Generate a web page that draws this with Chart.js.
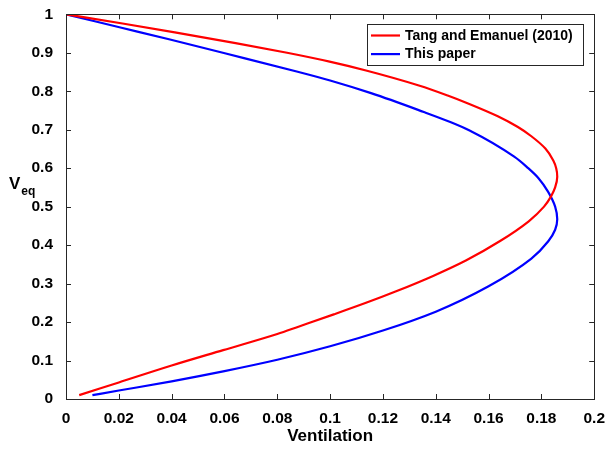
<!DOCTYPE html>
<html>
<head>
<meta charset="utf-8">
<script src="https://cdn.jsdelivr.net/npm/chart.js@4"></script>
<style>
  html, body { margin: 0; padding: 0; background: #fff; }
  canvas { display: block; }
</style>
</head>
<body>
<canvas id="vent" width="607" height="449"></canvas>
<script>
// Tang and Emanuel (2010) curve: ventilation vs equilibrium V (ordered by V)
const redX = [0.005, 0.02, 0.04, 0.0595, 0.08, 0.088, 0.1014, 0.1136, 0.125, 0.139, 0.1514, 0.1642, 0.1752, 0.181,
              0.1836, 0.1852, 0.186, 0.1856, 0.1845, 0.1815, 0.1762, 0.1711, 0.1635, 0.1527, 0.1445, 0.1336,
              0.1136, 0.0998, 0.0837, 0.0642, 0.0412, 0.0214, 0];
const redY = [0.01, 0.043, 0.087, 0.127, 0.169, 0.188, 0.22, 0.25, 0.28, 0.32, 0.36, 0.41, 0.462, 0.5,
              0.526, 0.55, 0.578, 0.6, 0.62, 0.651, 0.683, 0.707, 0.735, 0.767, 0.789, 0.815,
              0.854, 0.877, 0.9, 0.925, 0.953, 0.976, 1];

// this paper's curve
const blueX = [0.01, 0.02, 0.04, 0.06, 0.08, 0.1, 0.12, 0.14, 0.16, 0.1762, 0.1826, 0.1852, 0.186,
               0.1852, 0.1825, 0.1789, 0.175, 0.1697, 0.1528, 0.1455, 0.1355, 0.1155, 0.1, 0.0881, 0.0605, 0.039, 0.021, 0];
const blueY = [0.01, 0.022, 0.046, 0.0725, 0.102, 0.137, 0.178, 0.227, 0.293, 0.365, 0.41, 0.44, 0.467,
               0.5, 0.539, 0.574, 0.6, 0.63, 0.698, 0.72, 0.746, 0.795, 0.828, 0.85, 0.898, 0.935, 0.965, 1];

const seriesNames = ['Tang and Emanuel (2010)', 'This paper'];
const xTickValues = [0, 0.02, 0.04, 0.06, 0.08, 0.1, 0.12, 0.14, 0.16, 0.18, 0.2];
const yTickValues = [0, 0.1, 0.2, 0.3, 0.4, 0.5, 0.6, 0.7, 0.8, 0.9, 1];

const FONT = "'Liberation Sans', Arial, Helvetica, sans-serif";
const AXIS_COLOR = '#262626';

function pairs(xs, ys) {
  return xs.map((x, i) => ({ x: x, y: ys[i] }));
}

function fmt(v) {
  return String(Math.round(v * 100) / 100);
}

// matlab-ish box with ticks pointing inwards
const framePlugin = {
  id: 'frame',
  afterDraw(chart) {
    const { ctx, chartArea: a, scales } = chart;
    const len = 5;
    ctx.save();
    ctx.strokeStyle = AXIS_COLOR;
    ctx.lineWidth = 1;
    ctx.strokeRect(Math.round(a.left) + 0.5, Math.round(a.top) + 0.5,
                   Math.round(a.right - a.left), Math.round(a.bottom - a.top));
    ctx.beginPath();
    scales.x.ticks.forEach(t => {
      const px = Math.round(scales.x.getPixelForValue(t.value)) + 0.5;
      ctx.moveTo(px, a.bottom); ctx.lineTo(px, a.bottom - len);
      ctx.moveTo(px, a.top); ctx.lineTo(px, a.top + len);
    });
    scales.y.ticks.forEach(t => {
      const py = Math.round(scales.y.getPixelForValue(t.value)) + 0.5;
      ctx.moveTo(a.left, py); ctx.lineTo(a.left + len, py);
      ctx.moveTo(a.right, py); ctx.lineTo(a.right - len, py);
    });
    ctx.stroke();
    ctx.restore();
  }
};

// y axis title with subscript
const yTitlePlugin = {
  id: 'yTitle',
  afterDraw(chart) {
    const { ctx } = chart;
    ctx.save();
    ctx.fillStyle = '#000';
    ctx.textBaseline = 'alphabetic';
    ctx.textAlign = 'left';
    ctx.font = 'bold 17px ' + FONT;
    ctx.fillText('V', 9, 189);
    const w = ctx.measureText('V').width;
    ctx.font = 'bold 12px ' + FONT;
    ctx.fillText('eq', 9 + w + 1, 195);
    ctx.restore();
  }
};

// boxed legend in the upper right of the plot
const legendPlugin = {
  id: 'boxLegend',
  afterDraw(chart) {
    const { ctx } = chart;
    const x0 = 367, y0 = 24, w = 216, h = 41;
    ctx.save();
    ctx.fillStyle = '#fff';
    ctx.fillRect(x0, y0, w, h);
    ctx.strokeStyle = AXIS_COLOR;
    ctx.lineWidth = 1;
    ctx.strokeRect(x0 + 0.5, y0 + 0.5, w, h);
    ctx.font = 'bold 14px ' + FONT;
    ctx.textBaseline = 'middle';
    ctx.textAlign = 'left';
    chart.data.datasets.forEach((ds, i) => {
      const yy = y0 + 11.5 + i * 18.6;
      ctx.strokeStyle = ds.borderColor;
      ctx.lineWidth = 2.2;
      ctx.beginPath();
      ctx.moveTo(x0 + 4, yy);
      ctx.lineTo(x0 + 33, yy);
      ctx.stroke();
      ctx.fillStyle = '#000';
      ctx.fillText(ds.label, x0 + 38, yy + 0.5);
    });
    ctx.restore();
  }
};

// curves are smooth in V_eq, so interpolate along the y axis
const lineStyle = {
  showLine: true,
  borderWidth: 2.2,
  pointRadius: 0,
  indexAxis: 'y',
  cubicInterpolationMode: 'monotone'
};

new Chart(document.getElementById('vent'), {
  type: 'scatter',
  data: {
    datasets: [
      Object.assign({
        label: seriesNames[0],
        data: pairs(redX, redY),
        borderColor: '#ff0000',
        backgroundColor: '#ff0000'
      }, lineStyle),
      Object.assign({
        label: seriesNames[1],
        data: pairs(blueX, blueY),
        borderColor: '#0000ff',
        backgroundColor: '#0000ff'
      }, lineStyle)
    ]
  },
  options: {
    responsive: false,
    animation: false,
    layout: { padding: { top: 11, right: 10, left: 0, bottom: 0 } },
    plugins: {
      legend: { display: false },
      tooltip: { enabled: false }
    },
    scales: {
      x: {
        type: 'linear',
        min: 0,
        max: 0.2,
        afterBuildTicks: s => { s.ticks = xTickValues.map(v => ({ value: v })); },
        afterFit: s => { s.height = 50; },
        grid: { display: false },
        border: { display: false },
        ticks: {
          autoSkip: false,
          maxRotation: 0,
          padding: 2,
          color: '#000',
          font: { family: FONT, size: 15.5, weight: 'bold' },
          callback: v => fmt(v)
        },
        title: {
          display: true,
          text: 'Ventilation',
          color: '#000',
          font: { family: FONT, size: 17, weight: 'bold' },
          padding: { top: 0, bottom: 2 }
        }
      },
      y: {
        type: 'linear',
        min: 0,
        max: 1,
        afterBuildTicks: s => { s.ticks = yTickValues.map(v => ({ value: v })); },
        afterFit: s => { s.width = 66; },
        grid: { display: false },
        border: { display: false },
        ticks: {
          autoSkip: false,
          padding: 5,
          color: '#000',
          font: { family: FONT, size: 15.5, weight: 'bold' },
          callback: v => fmt(v)
        }
      }
    }
  },
  plugins: [framePlugin, yTitlePlugin, legendPlugin]
});
</script>
</body>
</html>
